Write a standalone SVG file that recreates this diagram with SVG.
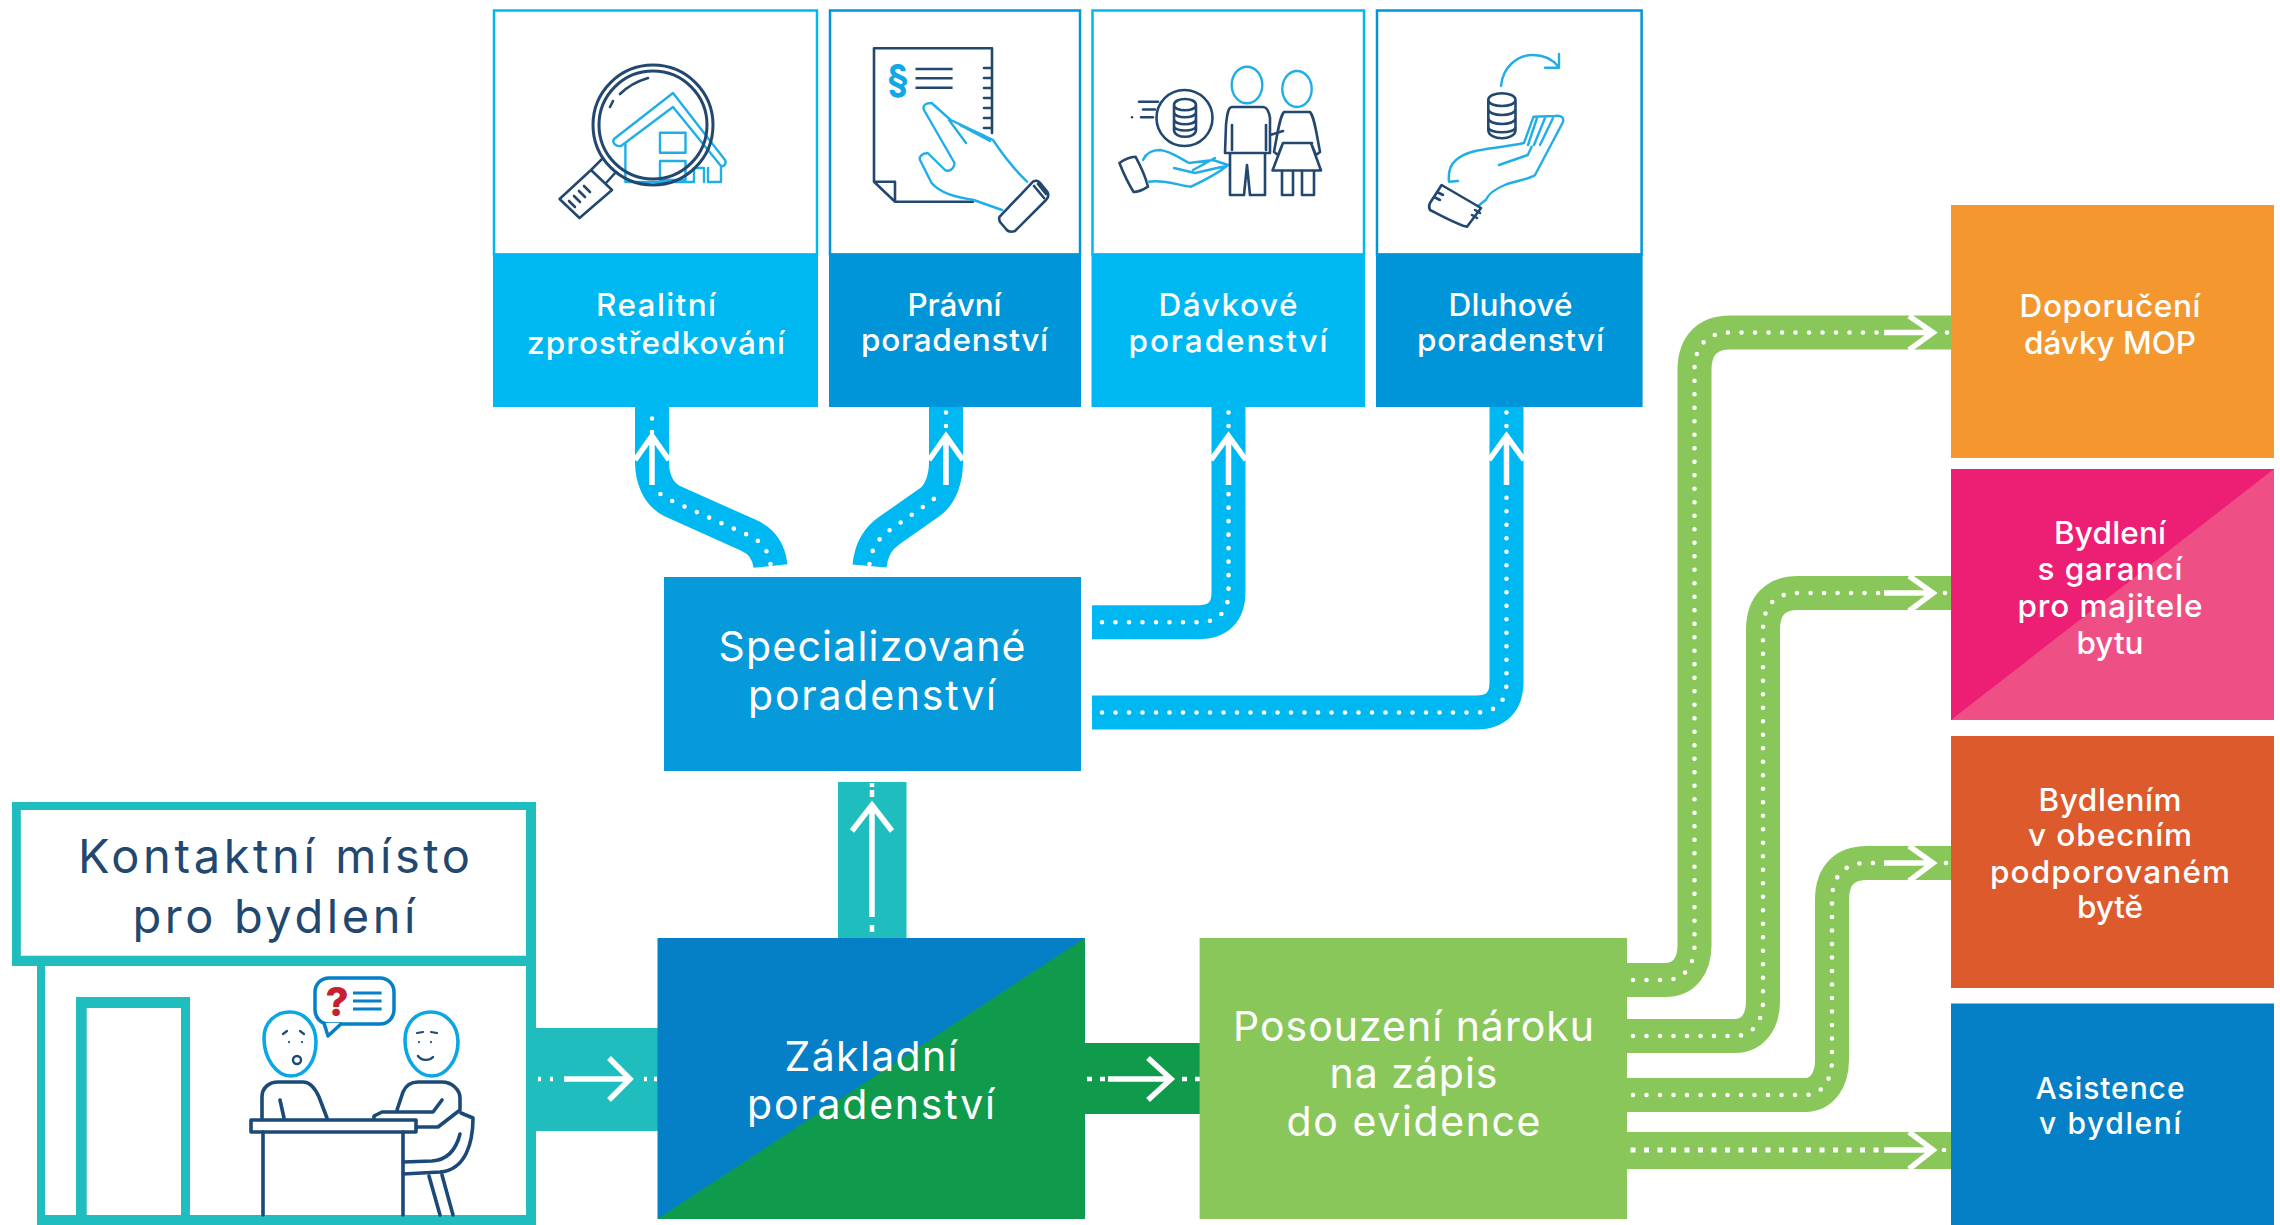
<svg xmlns="http://www.w3.org/2000/svg" width="2280" height="1225" viewBox="0 0 2280 1225">
<style>
text{font-family:"Inter","Liberation Sans",sans-serif;text-anchor:middle;fill:#fff}
.s30{font-size:31.500px;font-weight:500}.s27{font-size:30px;font-weight:500}.s38{font-size:41px}.s42{font-size:47px;fill:#23486f}
.band{fill:none;stroke-linejoin:round}
.blue{stroke:#00B8F1;stroke-width:34}
.green{stroke:#8AC75A;stroke-width:34}
.dots{fill:none;stroke:#fff;stroke-width:4.6;stroke-linecap:round;stroke-dasharray:0 13.5}
.arr{fill:none;stroke:#fff;stroke-width:5.5;stroke-linecap:butt;stroke-linejoin:miter}
.navy{fill:none;stroke:#23486f;stroke-width:2.6;stroke-linejoin:round;stroke-linecap:round}
.navy2{fill:none;stroke:#1c4a78;stroke-width:3.6;stroke-linejoin:round;stroke-linecap:round}
.sky{fill:none;stroke:#1FAEE8;stroke-width:2.4;stroke-linejoin:round;stroke-linecap:round}
.sky2{fill:none;stroke:#0AA7E6;stroke-width:3.6;stroke-linejoin:round;stroke-linecap:round}
.teal{fill:#1FBDBD}
</style>

<rect width="2280" height="1225" fill="#fff"/>

<g id="connectors">
  <!-- teal and dark green straight connectors -->
  <rect class="teal" x="536" y="1028" width="122" height="103"/>
  <path d="M538 1079h3M550 1079h3M644 1079h3M654 1079h3" stroke="#fff" stroke-width="4.5" fill="none"/>
  <path class="arr" d="M564 1079H629M609 1058L630 1079L609 1100"/>
  <rect class="teal" x="838" y="782" width="68.500" height="156"/>
  <path d="M872 783v4M872 790v7M872 925v7" stroke="#fff" stroke-width="4.500" fill="none"/>
  <path class="arr" d="M872 917V805M852 831L872 805L892 831"/>
  <rect x="1085" y="1043" width="115" height="71" fill="#0F9B4B"/>
  <path d="M1087 1079h5M1100 1079h5M1182 1079h5M1195 1079h5" stroke="#fff" stroke-width="4.500" fill="none"/>
  <path class="arr" d="M1108 1079H1171M1148 1058L1171 1079L1148 1100"/>

  <!-- blue road connectors -->
  <path class="band blue" d="M770.500 566C769 552 762 541 748 535L672 501C658 494 652 478 652 462V407"/>
  <path class="dots" d="M770.500 564C769 552 762 541 748 535L672 501C660 495 655 490 653 485"/>
  <path class="dots" d="M652 432V416"/>
  <path class="arr" d="M652 485V437M635 460L652 436L669 460"/>

  <path class="band blue" d="M869.500 566C871 550 878 538 890 530L930 502C941 494 946 478 946 462V407"/>
  <path class="dots" d="M869.500 564C871 550 878 538 890 530L930 502C935 498 939 495 941 490"/>
  <path class="dots" d="M946 426V412"/>
  <path class="arr" d="M946 485V436M929 460L946 436L963 460"/>

  <path class="band blue" d="M1092 622.300H1198C1218 622.300 1228.500 612 1228.500 592V407"/>
  <path class="dots" d="M1102 622.300H1198C1218 622.300 1228.500 612 1228.500 592V487"/>
  <path class="dots" d="M1228.500 426V412"/>
  <path class="arr" d="M1228.500 485V436M1211 460L1228.500 436L1246 460"/>

  <path class="band blue" d="M1092 712.500H1476C1496 712.500 1506.500 702 1506.500 682V407"/>
  <path class="dots" d="M1102 712.500H1476C1496 712.500 1506.500 702 1506.500 682V487"/>
  <path class="dots" d="M1506.500 426V412"/>
  <path class="arr" d="M1506.500 485V436M1489 460L1506.500 436L1524 460"/>

  <!-- green road connectors -->
  <path class="band green" d="M1627 980H1665C1685 980 1694.500 965 1694.500 945V370C1694.500 345 1708 332.500 1730 332.500H1951"/>
  <path class="dots" d="M1633 980H1665C1685 980 1694.500 965 1694.500 945V370C1694.500 345 1708 332.500 1730 332.500H1882"/>
  <path class="arr" d="M1884 332.500H1932M1909 316L1933 332.500L1909 350"/>
  <path class="dots" d="M1947 332.500h.1"/>

  <path class="band green" d="M1627 1036H1735C1753 1036 1763 1021 1763 1001V630C1763 605 1776 593 1798 593H1951"/>
  <path class="dots" d="M1633 1036H1735C1753 1036 1763 1021 1763 1001V630C1763 605 1776 593 1798 593H1882"/>
  <path class="arr" d="M1884 593H1932M1909 576L1933 593L1909 611"/>
  <path class="dots" d="M1945 593h.1"/>

  <path class="band green" d="M1627 1095H1805C1822 1095 1832 1080 1832 1060V900C1832 875 1845 863 1867 863H1951"/>
  <path class="dots" d="M1633 1095H1805C1822 1095 1832 1080 1832 1060V900C1832 875 1845 863 1867 863H1882"/>
  <path class="arr" d="M1884 863H1932M1909 846L1933 863L1909 881"/>
  <path class="dots" d="M1946 863h.1"/>

  <rect x="1627" y="1132" width="324" height="37" fill="#8AC75A"/>
  <path class="dots" style="stroke-width:5;stroke-linecap:square" d="M1633 1150H1882"/>
  <path class="arr" d="M1884 1150H1932M1909 1132L1933 1150L1909 1169"/>
  <path class="dots" d="M1944 1150h.1"/>
</g>

<g id="kontaktni-misto">
  <path class="teal" fill-rule="evenodd" d="M12 802H536V1225H37V966H12ZM20.800 810V955.700H526V810ZM45 966V1215H76V997H190V1215H526V966ZM86.700 1008V1215H181V1008Z"/>
  <text class="s42" x="274" y="873" textLength="392">Kontaktní místo</text>
  <text class="s42" x="274" y="933" textLength="283">pro bydlení</text>
  <g id="lide">
    <rect x="315" y="978" width="79" height="46" rx="14" fill="none" stroke="#0580C6" stroke-width="3.500"/>
    <path d="M324 1023L328 1036L342 1023" fill="#fff" stroke="#0580C6" stroke-width="3.500" stroke-linejoin="round"/>
    <text x="337" y="1016" style="font-size:40px;font-weight:800;fill:#C8202F">?</text>
    <path d="M353 993H381.600M353 1001H381.600M353 1009H381.600" stroke="#0580C6" stroke-width="3" fill="none"/>
    <path class="sky2" d="M290 1012C276 1012 264 1022 264 1038C264 1058 276 1076 291 1076C305 1076 316 1062 316 1042C316 1024 304 1012 290 1012Z"/>
    <path class="sky2" d="M431 1012C417 1012 405 1022 405 1040C405 1060 417 1076 432 1076C446 1076 458 1060 458 1042C458 1024 445 1012 431 1012Z"/>
    <path d="M283 1034l4-3M304 1034l-4-3M289 1042v.1M302 1042v.1M417 1033l6-1M431 1032l6 1M419 1042v.1M431 1042v.1" fill="none" stroke="#1c4a78" stroke-width="2.200" stroke-linecap="round"/>
    <circle cx="297" cy="1060" r="4" fill="none" stroke="#1c4a78" stroke-width="2.400"/>
    <path d="M418 1056C422 1061 429 1061 433 1057" fill="none" stroke="#1c4a78" stroke-width="2.400" stroke-linecap="round"/>
    <path class="navy2" d="M262 1118V1097C262 1087 270 1082 278 1082H303C310 1082 315 1088 319 1097L327 1118M280 1100L284 1118"/>
    <rect class="navy2" x="251" y="1120" width="165" height="12"/>
    <path class="navy2" d="M263 1132V1215M403 1132V1215"/>
    <path class="navy2" d="M397 1110L403 1092C406 1085 411 1082 418 1082H442C452 1082 460 1090 460 1098V1110L438 1127H417M442 1100L433 1112H382L374 1116V1119"/>
    <path class="navy2" d="M461 1113L473 1118C473 1142 466 1170 440 1172L403 1174M460 1134C456 1150 447 1160 432 1161L403 1162M429 1176L440 1215M442 1175L453 1215"/>
  </g>
</g>

<g id="zakladni">
  <rect x="657.500" y="938" width="427.500" height="281" fill="#0580C6"/>
  <path d="M657.500 1219L1085 938V1219Z" fill="#0F9B4B"/>
  <text class="s38" x="871" y="1071" textLength="173">Základní</text>
  <text class="s38" x="871" y="1119" textLength="248">poradenství</text>
</g>

<g id="specializovane">
  <rect x="664" y="577" width="417" height="194" fill="#069ADA"/>
  <text class="s38" x="872" y="661" textLength="307">Specializované</text>
  <text class="s38" x="872" y="710" textLength="248">poradenství</text>
</g>

<g id="posouzeni">
  <rect x="1199.600" y="938" width="427.400" height="281" fill="#8AC75A"/>
  <text class="s38" x="1413.500" y="1041" textLength="361">Posouzení nároku</text>
  <text class="s38" x="1413.500" y="1088" textLength="168">na zápis</text>
  <text class="s38" x="1413.500" y="1136" textLength="254">do evidence</text>
</g>

<g id="realitni">
  <rect x="494" y="10.500" width="323" height="244" fill="#fff" stroke="#00B8F1" stroke-width="2.500"/>
  <rect x="493" y="253.500" width="325" height="153.500" fill="#00B8F1"/>
  <text class="s30" x="656" y="316" textLength="120">Realitní</text>
  <text class="s30" x="656" y="354" textLength="258">zprostředkování</text>
  <path class="sky" d="M614 139C612 142 615 147 621 146L673 107L721 166C724 167 727 163 725 160L673 93Z"/>
  <path class="sky" d="M625.400 144V182H694M660 132.700H685.500V152.700H660ZM660 161H685.500V180H660ZM694 182V168H704V182M708 168V182H721V166"/>
  <circle cx="653" cy="125" r="60" fill="none" stroke="#23486f" stroke-width="3"/>
  <circle cx="653" cy="125" r="54" fill="none" stroke="#23486f" stroke-width="3"/>
  <path class="navy" d="M610 107L613 101M620 94C628 86 638 81 648 78"/>
  <path class="navy" d="M603 158L591 170M616 172L606 183M591 170L612 190L579.500 218L559.600 199Z"/>
  <path class="navy" d="M569 201L575 207M574 196L580 202M579 191L585 197M584 186L590 192"/>
</g>

<g id="pravni">
  <rect x="830" y="10.500" width="250" height="244" fill="#fff" stroke="#0095D9" stroke-width="2.500"/>
  <rect x="829" y="253.500" width="252" height="153.500" fill="#0095D9"/>
  <text class="s30" x="954.500" y="316" textLength="94">Právní</text>
  <text class="s30" x="954.500" y="351" textLength="187">poradenství</text>
  <path class="navy" d="M874 181.700V48.300H992V133M874 181.700L895 201.700H973M874 181.700H895V201.700M984 68H992M984 78H992M984 88H992M984 98H992M984 108H992M984 118H992M984 128H992"/>
  <text x="898" y="92" style="font-size:38px;font-weight:700;fill:#10A9E6">§</text>
  <path d="M915.500 69H952.600M915.500 78.300H952.600M915.500 87.700H952.600" stroke="#23486f" stroke-width="2.400" fill="none"/>
  <path class="sky" d="M1027 181.700C1015 170 1005 158 993 140L950.700 120L931.600 103C926 103 922 105 924 110L954.500 163C954 170 948 172 945 170L927.700 153C922 153 919 157 920 160L931.600 183C940 193 955 197 973.700 200L1002 210M949 120L966 143M955 122L985 136M960 125L990 141"/>
  <path class="navy" d="M999.700 216.700L1033 181.700C1036 180 1039 181 1041 184L1047.500 192C1049 195 1048 198 1046 200L1015 231C1012 232 1008 232 1006 229L1000 222C999 220 999 218 999.700 216.700ZM1034 186L1044 198M1038 184L1046 194"/>
</g>

<g id="davkove">
  <rect x="1092.500" y="10.500" width="271.500" height="244" fill="#fff" stroke="#00B8F1" stroke-width="2.500"/>
  <rect x="1091.500" y="253.500" width="273.500" height="153.500" fill="#00B8F1"/>
  <text class="s30" x="1228" y="316" textLength="139">Dávkové</text>
  <text class="s30" x="1228" y="352" textLength="199">poradenství</text>
  <circle cx="1184.500" cy="118" r="28" fill="none" stroke="#23486f" stroke-width="2.600"/>
  <path class="navy" d="M1174 105C1174 97 1196 97 1196 105V130C1196 139 1174 139 1174 130ZM1174 105C1174 112 1196 112 1196 105M1174 112C1174 119 1196 119 1196 112M1174 119C1174 126 1196 126 1196 119M1174 126C1174 132 1196 132 1196 126"/>
  <path class="navy" d="M1139 101.700H1158M1143 109.500H1155M1141 117.300H1153M1132 117.300h.1"/>
  <path class="navy" d="M1119.400 163C1125 159 1130 157 1135.500 156.700C1140 165 1145 175 1148 186.700C1143 190 1138 192 1133.600 192C1128 183 1123 172 1119.400 163Z"/>
  <path class="sky" d="M1143 160C1146 153 1152 150 1160 150C1170 151 1178 157 1189 163L1213 160L1228 165C1220 172 1205 180 1191 186.700C1180 186 1165 179 1148 181.700M1174 168L1195 173L1226 166M1193 170L1215 158"/>
  <ellipse class="sky" cx="1247" cy="85" rx="15.300" ry="18.300"/>
  <ellipse class="sky" cx="1297" cy="89" rx="14.700" ry="18"/>
  <path class="navy" d="M1232 107H1263C1267 107 1269 112 1270 118V153H1265V195H1250L1247 165L1244 195H1230V153H1225L1226 125C1227 115 1228 107 1232 107ZM1231 153H1266M1232 125V150M1266 125V150M1270 135L1283 131"/>
  <path class="navy" d="M1284 112H1310C1314 116 1316 130 1320 152L1316 155L1311 143L1321 170.500H1272.500L1283 143L1278 155L1274 152C1278 130 1280 116 1284 112ZM1283 143H1312M1282 170.500V195H1293V170.500M1302 170.500V195H1314V170.500"/>
</g>

<g id="dluhove">
  <rect x="1377" y="10.500" width="264.600" height="244" fill="#fff" stroke="#0095D9" stroke-width="2.500"/>
  <rect x="1376" y="253.500" width="266.600" height="153.500" fill="#0095D9"/>
  <text class="s30" x="1510.500" y="316" textLength="124">Dluhové</text>
  <text class="s30" x="1510.500" y="351" textLength="187">poradenství</text>
  <path class="sky" d="M1501 86C1503 66 1518 55 1533 55C1544 55 1553 60 1558.500 66.700M1559 54V67.700H1545"/>
  <path class="navy" d="M1488.300 100C1488.300 91 1515.500 91 1515.500 100V130C1515.500 141 1488.300 141 1488.300 130ZM1488.300 100C1488.300 108 1515.500 108 1515.500 100M1488.300 109C1488.300 117 1515.500 117 1515.500 109M1488.300 118C1488.300 126 1515.500 126 1515.500 118M1488.300 127C1488.300 134 1515.500 134 1515.500 127"/>
  <path class="sky" d="M1449 181.700C1448 172 1450 165 1456 160C1470 148 1490 150 1524 143L1533.500 116.700L1555 116C1562 115 1564 118 1563 122L1535 175C1530 179 1515 181 1504.800 185C1495 189 1488 195 1485.700 200L1478 206M1449 181.700L1458 181M1499 165L1527.800 155L1531.600 146.700M1537 118L1528 145M1545 118L1534 145M1553 118L1540 145"/>
  <path class="navy" d="M1430 203L1441.600 185L1481 208L1467 226.700C1460 226 1440 215 1430 210C1429 208 1429 205 1430 203ZM1434 197L1440 200M1437 192L1443 195M1472 215L1477 218M1475 210L1480 213"/>
</g>

<g id="doporuceni">
  <rect x="1951" y="205" width="323" height="253" fill="#F5972F"/>
  <text class="s30" x="2110" y="317" textLength="181">Doporučení</text>
  <text class="s30" x="2110" y="354" textLength="172">dávky MOP</text>
</g>

<g id="garance">
  <rect x="1951" y="469" width="323" height="251" fill="#EC1F75"/>
  <path d="M1951 720L2274 469V720Z" fill="#EE5085"/>
  <text class="s30" x="2110" y="543.500" textLength="112">Bydlení</text>
  <text class="s30" x="2110" y="580" textLength="145">s garancí</text>
  <text class="s30" x="2110" y="616.500" textLength="185">pro majitele</text>
  <text class="s30" x="2110" y="653.500" textLength="67">bytu</text>
</g>

<g id="obecni">
  <rect x="1951" y="736" width="323" height="252" fill="#DC5A2C"/>
  <text class="s30" x="2110" y="811" textLength="143">Bydlením</text>
  <text class="s30" x="2110" y="846" textLength="164">v obecním</text>
  <text class="s30" x="2110" y="883" textLength="240">podporovaném</text>
  <text class="s30" x="2110" y="918" textLength="66">bytě</text>
</g>

<g id="asistence">
  <rect x="1951" y="1003.500" width="323" height="221.500" fill="#0580C6"/>
  <text class="s27" x="2110" y="1099" textLength="149">Asistence</text>
  <text class="s27" x="2110" y="1134" textLength="142">v bydlení</text>
</g>
</svg>
